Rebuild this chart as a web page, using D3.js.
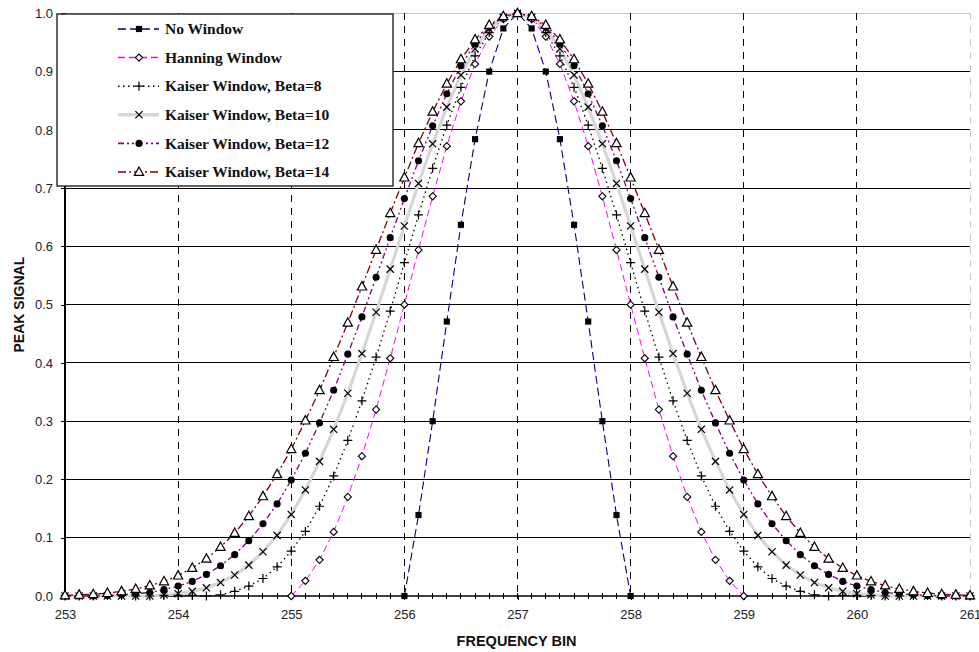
<!DOCTYPE html>
<html>
<head>
<meta charset="utf-8">
<script src="https://cdn.jsdelivr.net/npm/d3@7"></script>
<style>
  html, body { margin: 0; padding: 0; background: #fff; }
  svg { display: block; }
</style>
</head>
<body>
<svg id="chart" width="979" height="652"></svg>
<script>
// ---------------- DATA ----------------
const freqBins = [
  253, 253.125, 253.25, 253.375, 253.5, 253.625, 253.75, 253.875,
  254, 254.125, 254.25, 254.375, 254.5, 254.625, 254.75, 254.875,
  255, 255.125, 255.25, 255.375, 255.5, 255.625, 255.75, 255.875,
  256, 256.125, 256.25, 256.375, 256.5, 256.625, 256.75, 256.875,
  257, 257.125, 257.25, 257.375, 257.5, 257.625, 257.75, 257.875,
  258, 258.125, 258.25, 258.375, 258.5, 258.625, 258.75, 258.875,
  259, 259.125, 259.25, 259.375, 259.5, 259.625, 259.75, 259.875,
  260, 260.125, 260.25, 260.375, 260.5, 260.625, 260.75, 260.875,
  261
];

const noWindow = [
  null, null, null, null, null, null, null, null,
  null, null, null, null, null, null, null, null,
  null, null, null, null, null, null, null, null,
  0.000, 0.139, 0.300, 0.471, 0.637, 0.784, 0.900, 0.974,
  1.000, 0.974, 0.900, 0.784, 0.637, 0.471, 0.300, 0.139,
  0.000, null, null, null, null, null, null, null,
  null, null, null, null, null, null, null, null,
  null, null, null, null, null, null, null, null,
  null
];

const hanning = [
  null, null, null, null, null, null, null, null,
  null, null, null, null, null, null, null, null,
  0.000, 0.026, 0.062, 0.110, 0.170, 0.240, 0.320, 0.408,
  0.500, 0.594, 0.686, 0.772, 0.849, 0.913, 0.960, 0.990,
  1.000, 0.990, 0.960, 0.913, 0.849, 0.772, 0.686, 0.594,
  0.500, 0.408, 0.320, 0.240, 0.170, 0.110, 0.062, 0.026,
  0.000, null, null, null, null, null, null, null,
  null, null, null, null, null, null, null, null,
  null
];

const kaiser8 = [
  0.000, 0.000, 0.000, 0.001, 0.001, 0.000, 0.000, 0.001,
  0.001, 0.001, 0.000, 0.002, 0.008, 0.017, 0.030, 0.050,
  0.077, 0.111, 0.154, 0.206, 0.267, 0.335, 0.410, 0.489,
  0.572, 0.654, 0.734, 0.808, 0.873, 0.927, 0.967, 0.992,
  1.000, 0.992, 0.967, 0.927, 0.873, 0.808, 0.734, 0.654,
  0.572, 0.489, 0.410, 0.335, 0.267, 0.206, 0.154, 0.111,
  0.077, 0.050, 0.030, 0.017, 0.008, 0.002, 0.000, 0.001,
  0.001, 0.001, 0.000, 0.000, 0.001, 0.001, 0.000, 0.000,
  0.000
];

const kaiser10 = [
  0.000, 0.000, 0.000, 0.000, 0.000, 0.000, 0.000, 0.002,
  0.004, 0.008, 0.014, 0.023, 0.036, 0.053, 0.076, 0.104,
  0.140, 0.182, 0.231, 0.286, 0.348, 0.416, 0.487, 0.561,
  0.635, 0.708, 0.776, 0.839, 0.894, 0.939, 0.973, 0.993,
  1.000, 0.993, 0.973, 0.939, 0.894, 0.839, 0.776, 0.708,
  0.635, 0.561, 0.487, 0.416, 0.348, 0.286, 0.231, 0.182,
  0.140, 0.104, 0.076, 0.053, 0.036, 0.023, 0.014, 0.008,
  0.004, 0.002, 0.000, 0.000, 0.000, 0.000, 0.000, 0.000,
  0.000
];

const kaiser12 = [
  0.000, 0.000, 0.000, 0.001, 0.002, 0.004, 0.006, 0.011,
  0.017, 0.025, 0.037, 0.052, 0.071, 0.095, 0.124, 0.158,
  0.199, 0.245, 0.297, 0.353, 0.415, 0.479, 0.547, 0.615,
  0.682, 0.747, 0.807, 0.862, 0.910, 0.948, 0.977, 0.994,
  1.000, 0.994, 0.977, 0.948, 0.910, 0.862, 0.807, 0.747,
  0.682, 0.615, 0.547, 0.479, 0.415, 0.353, 0.297, 0.245,
  0.199, 0.158, 0.124, 0.095, 0.071, 0.052, 0.037, 0.025,
  0.017, 0.011, 0.006, 0.004, 0.002, 0.001, 0.000, 0.000,
  0.000
];

const kaiser14 = [
  0.001, 0.002, 0.003, 0.005, 0.008, 0.012, 0.018, 0.025,
  0.035, 0.048, 0.064, 0.084, 0.108, 0.137, 0.171, 0.209,
  0.252, 0.301, 0.353, 0.410, 0.469, 0.531, 0.594, 0.657,
  0.718, 0.777, 0.831, 0.879, 0.921, 0.955, 0.980, 0.995,
  1.000, 0.995, 0.980, 0.955, 0.921, 0.879, 0.831, 0.777,
  0.718, 0.657, 0.594, 0.531, 0.469, 0.410, 0.353, 0.301,
  0.252, 0.209, 0.171, 0.137, 0.108, 0.084, 0.064, 0.048,
  0.035, 0.025, 0.018, 0.012, 0.008, 0.005, 0.003, 0.002,
  0.001
];

const seriesNames = [
  "No Window",
  "Hanning Window",
  "Kaiser Window, Beta=8",
  "Kaiser Window, Beta=10",
  "Kaiser Window, Beta=12",
  "Kaiser Window, Beta=14"
];

const xTicks = [253, 254, 255, 256, 257, 258, 259, 260, 261];
const yTicks = [0.0, 0.1, 0.2, 0.3, 0.4, 0.5, 0.6, 0.7, 0.8, 0.9, 1.0];
const xTitle = "FREQUENCY BIN";
const yTitle = "PEAK SIGNAL";

// ---------------- STYLES ----------------
const styles = [
  { color: "#000080", width: 1.1, dash: "8,4",          marker: "square" },
  { color: "#ff00ff", width: 1.0, dash: "7,4",          marker: "diamond" },
  { color: "#000000", width: 1.3, dash: "1.5,3.5",      marker: "plus" },
  { color: "#d6d6d6", width: 3.2, dash: null,           marker: "cross" },
  { color: "#800080", width: 1.3, dash: "6,3,2,3,2,3",  marker: "circle" },
  { color: "#800000", width: 1.3, dash: "8,3,2,3",      marker: "triangle" }
];
const seriesValues = [noWindow, hanning, kaiser8, kaiser10, kaiser12, kaiser14];

// ---------------- CHART ----------------
const svg = d3.select("#chart");
const plotLeft = 65, plotRight = 970, plotTop = 13.3, plotBottom = 596;
const x = d3.scaleLinear().domain([253, 261]).range([plotLeft, plotRight]);
const y = d3.scaleLinear().domain([0, 1]).range([plotBottom, plotTop]);

const sansFont = "Arial, 'Liberation Sans', sans-serif";
const serifFont = "'Times New Roman', 'Liberation Serif', serif";

// Horizontal gridlines
svg.append("g").selectAll("line")
  .data(yTicks.filter(v => v > 0))
  .join("line")
  .attr("x1", plotLeft).attr("x2", plotRight)
  .attr("y1", d => y(d)).attr("y2", d => y(d))
  .attr("stroke", d => d >= 1 ? "#c8c8c8" : "#000")
  .attr("stroke-width", d => d >= 1 ? 1.2 : 1)
  .attr("shape-rendering", "crispEdges");

// Vertical dashed gridlines
svg.append("g").selectAll("line")
  .data(xTicks.filter(v => v > 253))
  .join("line")
  .attr("x1", d => x(d)).attr("x2", d => x(d))
  .attr("y1", plotTop).attr("y2", plotBottom)
  .attr("stroke", d => d >= 261 ? "#c8c8c8" : "#000")
  .attr("stroke-width", 1)
  .attr("stroke-dasharray", "7,6")
  .attr("shape-rendering", "crispEdges");

// Y axis
const yAxis = d3.axisLeft(y).tickValues(yTicks).tickFormat(d3.format(".1f"))
  .tickSize(4).tickPadding(8);
const gy = svg.append("g").attr("transform", `translate(${plotLeft},0)`).call(yAxis);
gy.select(".domain").remove();
gy.selectAll(".tick line").attr("stroke", "#000").attr("shape-rendering", "crispEdges");
gy.selectAll("text").attr("font-family", sansFont).attr("font-size", 13).attr("fill", "#222");
svg.append("line").attr("x1", plotLeft).attr("x2", plotLeft).attr("y1", plotTop).attr("y2", plotBottom)
  .attr("stroke", "#000").attr("stroke-width", 1.2).attr("shape-rendering", "crispEdges");

// X axis
const xAxis = d3.axisBottom(x).tickValues(xTicks).tickFormat(d3.format("d"))
  .tickSize(4).tickPadding(10);
const gx = svg.append("g").attr("transform", `translate(0,${plotBottom})`).call(xAxis);
gx.select(".domain").remove();
gx.selectAll(".tick line").attr("stroke", "#000").attr("shape-rendering", "crispEdges");
gx.selectAll("text").attr("font-family", sansFont).attr("font-size", 13).attr("fill", "#222");
// minor ticks at each sample bin
svg.append("g").selectAll("line")
  .data(freqBins)
  .join("line")
  .attr("x1", d => x(d)).attr("x2", d => x(d))
  .attr("y1", plotBottom - 3).attr("y2", plotBottom + 3)
  .attr("stroke", "#000").attr("stroke-width", 1)
  .attr("shape-rendering", "crispEdges");
svg.append("line").attr("x1", plotLeft).attr("x2", plotRight).attr("y1", plotBottom).attr("y2", plotBottom)
  .attr("stroke", "#000").attr("stroke-width", 1.6);

// Axis titles
svg.append("text")
  .attr("x", (plotLeft + plotRight) / 2 - 1).attr("y", 646)
  .attr("text-anchor", "middle")
  .attr("font-family", sansFont).attr("font-weight", "bold").attr("font-size", 14.5)
  .attr("fill", "#111")
  .text(xTitle);
svg.append("text")
  .attr("transform", `translate(24,${y(0.5)}) rotate(-90)`)
  .attr("text-anchor", "middle")
  .attr("font-family", sansFont).attr("font-weight", "bold").attr("font-size", 14)
  .attr("fill", "#111")
  .text(yTitle);

// Marker drawing
function drawMarker(sel, type) {
  if (type === "square") {
    sel.append("path").attr("d", d3.symbol(d3.symbolSquare, 38)()).attr("fill", "#000");
  } else if (type === "diamond") {
    sel.append("path").attr("d", "M0,-3.6L3.6,0L0,3.6L-3.6,0Z")
      .attr("fill", "#fff").attr("stroke", "#000").attr("stroke-width", 1.1);
  } else if (type === "plus") {
    sel.append("path").attr("d", "M-4.5,0H4.5M0,-4.5V4.5")
      .attr("fill", "none").attr("stroke", "#000").attr("stroke-width", 1.2);
  } else if (type === "cross") {
    sel.append("path").attr("d", "M-3.6,-3.6L3.6,3.6M-3.6,3.6L3.6,-3.6")
      .attr("fill", "none").attr("stroke", "#000").attr("stroke-width", 1.2);
  } else if (type === "circle") {
    sel.append("path").attr("d", d3.symbol(d3.symbolCircle, 40)()).attr("fill", "#000");
  } else if (type === "triangle") {
    sel.append("path").attr("d", "M0,-5L4.6,3.4L-4.6,3.4Z")
      .attr("fill", "#fff").attr("stroke", "#000").attr("stroke-width", 1.2);
  }
}

// Series
const plot = svg.append("g");
seriesValues.forEach((vals, si) => {
  const st = styles[si];
  const pts = freqBins.map((f, i) => ({ f, v: vals[i] })).filter(p => p.v !== null);
  const line = d3.line().x(p => x(p.f)).y(p => y(p.v));
  plot.append("path")
    .datum(pts)
    .attr("d", line)
    .attr("fill", "none")
    .attr("stroke", st.color)
    .attr("stroke-width", st.width)
    .attr("stroke-dasharray", st.dash);
});
seriesValues.forEach((vals, si) => {
  const st = styles[si];
  const pts = freqBins.map((f, i) => ({ f, v: vals[i] })).filter(p => p.v !== null);
  const g = plot.append("g");
  pts.forEach(p => {
    const m = g.append("g").attr("transform", `translate(${x(p.f)},${y(p.v)})`);
    drawMarker(m, st.marker);
  });
});

// Legend
const legend = svg.append("g");
legend.append("rect")
  .attr("x", 57).attr("y", 14).attr("width", 336).attr("height", 172)
  .attr("fill", "#fff").attr("stroke", "#222").attr("stroke-width", 1.4);
seriesNames.forEach((name, i) => {
  const st = styles[i];
  const cy = 29 + i * 28.6;
  legend.append("line")
    .attr("x1", 118).attr("x2", 159).attr("y1", cy).attr("y2", cy)
    .attr("stroke", st.color).attr("stroke-width", st.width === 1.0 ? 1.5 : (st.width > 3 ? 3.5 : 1.6))
    .attr("stroke-dasharray", st.dash);
  const m = legend.append("g").attr("transform", `translate(139,${cy})`);
  drawMarker(m, st.marker);
  legend.append("text")
    .attr("x", 165).attr("y", cy + 5.2)
    .attr("font-family", serifFont).attr("font-weight", "bold").attr("font-size", 15.5)
    .attr("fill", "#111")
    .text(name);
});
</script>
</body>
</html>
